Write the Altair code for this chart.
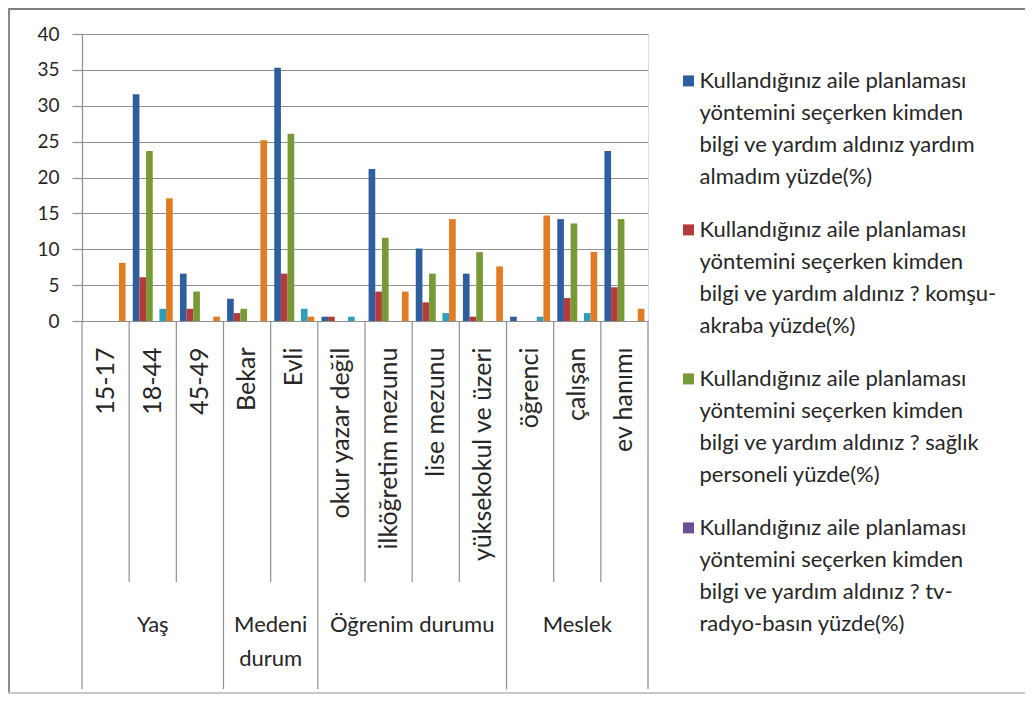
import altair as alt
import pandas as pd

# ---- data ----
kategoriler = ["15-17", "18-44", "45-49", "Bekar", "Evli", "okur yazar değil",
               "ilköğretim mezunu", "lise mezunu", "yüksekokul ve üzeri",
               "öğrenci", "çalışan", "ev hanımı"]
gruplar = ["Yaş", "Medeni\ndurum", "Öğrenim durumu", "Meslek"]
grup_boyutlari = [3, 2, 4, 3]

seriler = [
    "Kullandığınız aile planlaması|yöntemini seçerken kimden|bilgi ve yardım aldınız yardım|almadım yüzde(%)",
    "Kullandığınız aile planlaması|yöntemini seçerken kimden|bilgi ve yardım aldınız ? komşu-|akraba yüzde(%)",
    "Kullandığınız aile planlaması|yöntemini seçerken kimden|bilgi ve yardım aldınız ? sağlık|personeli yüzde(%)",
    "Kullandığınız aile planlaması|yöntemini seçerken kimden|bilgi ve yardım aldınız ? tv-|radyo-basın yüzde(%)",
    "Kullandığınız aile planlaması|yöntemini seçerken kimden|bilgi ve yardım aldınız ? eşi|yüzde(%)",
    "Kullandığınız aile planlaması|yöntemini seçerken kimden|bilgi ve yardım aldınız ? diğer|yüzde(%)",
]
renkler = ["#2F5E9F", "#B33B39", "#779A36", "#6B5095", "#2F9EBC", "#E07C24"]

yardim_almadim   = [0, 31.6, 6.6, 3.1, 35.3, 0.6, 21.2, 10.1, 6.6, 0.6, 14.2, 23.7]
komsu_akraba     = [0, 6.1, 1.7, 1.1, 6.6, 0.6, 4.1, 2.6, 0.6, 0, 3.2, 4.7]
saglik_personeli = [0, 23.7, 4.1, 1.7, 26.1, 0, 11.6, 6.6, 9.6, 0, 13.6, 14.2]
tv_radyo_basin   = [0, 0, 0, 0, 0, 0, 0, 0, 0, 0, 0, 0]
esi              = [0, 1.7, 0, 0, 1.7, 0.6, 0, 1.1, 0, 0.6, 1.1, 0]
diger            = [8.1, 17.1, 0.6, 25.2, 0.6, 0, 4.1, 14.2, 7.6, 14.7, 9.6, 1.7]
degerler = [yardim_almadim, komsu_akraba, saglik_personeli, tv_radyo_basin, esi, diger]

y_ticks = [0, 5, 10, 15, 20, 25, 30, 35, 40]

# ---- tables ----
rows = []
for s, vals in zip(seriler, degerler):
    for k, v in zip(kategoriler, vals):
        rows.append({"kategori": k, "seri": s, "deger": v})
df = pd.DataFrame(rows)

grp_start, inner, label_center, label_edge = [], [], [], []
i = 0
for g, n in zip(gruplar, grup_boyutlari):
    cats = kategoriler[i:i + n]
    grp_start.append(cats[0])
    inner.extend(cats[1:])
    if n % 2 == 1:
        label_center.append({"kategori": cats[n // 2], "grup": g})
    else:
        label_edge.append({"kategori": cats[n // 2], "grup": g})
    i += n

W, H = 566, 287
PAD_L, PAD_T = 74, 26
TOT_W, TOT_H = 1017, 686

FONT = "Lato"
TXT = "#262626"
GRID = "#8f8f8f"

# small square legend marker, sitting on the first text line
MARKER = "M-0.55,0.44H0.55V1.54H-0.55Z"

xsc = alt.Scale(domain=kategoriler, paddingInner=0, paddingOuter=0)

bars = alt.Chart(df).mark_bar().encode(
    x=alt.X("kategori:N", sort=kategoriler, scale=xsc,
            axis=alt.Axis(title=None, labelAngle=-90, labelAlign="right",
                          labelBaseline="middle", labelPadding=26, ticks=False,
                          domainColor=GRID, domainWidth=1.2, labelFontSize=25,
                          labelFont=FONT, labelColor=TXT, labelLimit=400)),
    xOffset=alt.XOffset("seri:N", sort=seriler,
                        scale=alt.Scale(domain=seriler, paddingOuter=0.54, paddingInner=0)),
    y=alt.Y("deger:Q", scale=alt.Scale(domain=[0, 40], nice=False),
            axis=alt.Axis(title=None, values=y_ticks, tickSize=10, labelPadding=13,
                          gridColor=GRID, gridWidth=1.2, tickColor=GRID, tickWidth=1.2,
                          domainColor=GRID, domainWidth=1.2, labelFontSize=19,
                          labelFont=FONT, labelColor=TXT)),
    color=alt.Color("seri:N", sort=seriler,
                    scale=alt.Scale(domain=seriler, range=renkler),
                    legend=alt.Legend(title=None, orient="none", legendX=595.5, legendY=26,
                                      values=seriler[:4],
                                      labelExpr="split(datum.label, '|')",
                                      symbolType=MARKER, symbolSize=400,
                                      symbolStrokeWidth=0, labelFontSize=22,
                                      labelFont=FONT, labelColor=TXT, labelOffset=0,
                                      rowPadding=21, labelLimit=400,
                                      labelBaseline="top", padding=0)),
)

inner_df = pd.DataFrame({"kategori": inner})
start_df = pd.DataFrame({"kategori": grp_start})
end_df = pd.DataFrame({"kategori": [kategoriler[-1]]})

inner_rules = alt.Chart(inner_df).mark_rule(color=GRID, strokeWidth=1.2).encode(
    x=alt.X("kategori:N", sort=kategoriler, bandPosition=0),
    y=alt.value(H), y2=alt.value(H + 261))
start_rules = alt.Chart(start_df).mark_rule(color=GRID, strokeWidth=1.2).encode(
    x=alt.X("kategori:N", sort=kategoriler, bandPosition=0),
    y=alt.value(H), y2=alt.value(H + 368))
end_rules = alt.Chart(end_df).mark_rule(color=GRID, strokeWidth=1.2).encode(
    x=alt.X("kategori:N", sort=kategoriler, bandPosition=1),
    y=alt.value(H), y2=alt.value(H + 368))

lab_c = alt.Chart(pd.DataFrame(label_center)).mark_text(
    font=FONT, fontSize=22, color=TXT, baseline="top", lineBreak="\n", lineHeight=34
).encode(x=alt.X("kategori:N", sort=kategoriler, bandPosition=0.5),
         y=alt.value(H + 294), text="grup:N")
lab_e = alt.Chart(pd.DataFrame(label_edge)).mark_text(
    font=FONT, fontSize=22, color=TXT, baseline="top", lineBreak="\n", lineHeight=34
).encode(x=alt.X("kategori:N", sort=kategoriler, bandPosition=0),
         y=alt.value(H + 294), text="grup:N")

one = pd.DataFrame({"a": [0]})
frame_top = alt.Chart(one).mark_rule(color="#7f7f7f", strokeWidth=2).encode(
    x=alt.value(-PAD_L), x2=alt.value(TOT_W - PAD_L), y=alt.value(-PAD_T + 1))
frame_left = alt.Chart(one).mark_rule(color="#8a8a8a", strokeWidth=2).encode(
    x=alt.value(-PAD_L + 1), y=alt.value(-PAD_T), y2=alt.value(TOT_H - PAD_T))
frame_bot = alt.Chart(one).mark_rule(color="#c8c8c8", strokeWidth=2).encode(
    x=alt.value(-PAD_L), x2=alt.value(TOT_W - PAD_L), y=alt.value(TOT_H - PAD_T - 1))

chart = alt.layer(
    bars, inner_rules, start_rules, end_rules, lab_c, lab_e,
    frame_top, frame_left, frame_bot
).properties(
    width=W, height=H,
    autosize=alt.AutoSizeParams(type="none"),
    padding={"left": PAD_L, "top": PAD_T, "right": TOT_W - PAD_L - W,
             "bottom": TOT_H - PAD_T - H},
    background="white",
).configure_view(stroke=None).configure(
    style={"guide-label": {"lineHeight": 32}}
)

chart.save("out.html", embed_options={"renderer": "svg", "actions": False})
